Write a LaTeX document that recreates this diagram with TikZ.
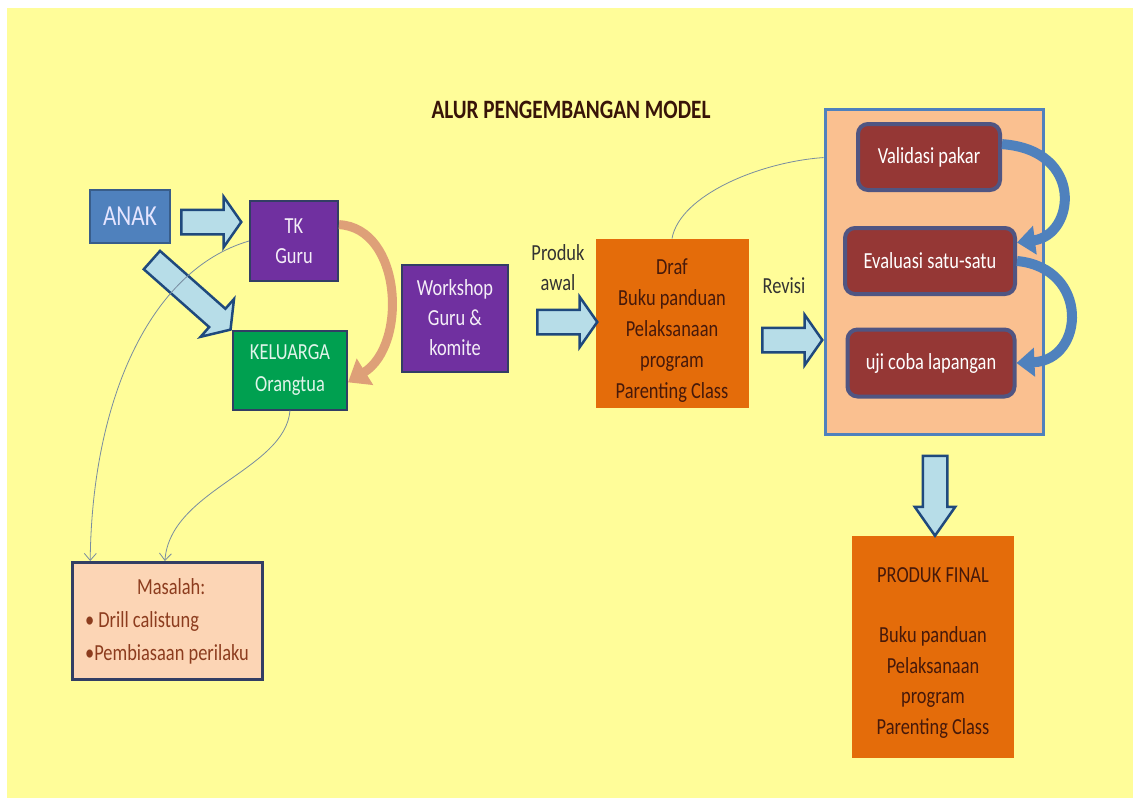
\documentclass[tikz,border=0pt]{standalone}
\usepackage{fontspec}
\setmainfont{Carlito}[FakeStretch=0.8]
\usetikzlibrary{shapes.arrows,arrows.meta}
\definecolor{bgyellow}{RGB}{255,253,153}
\definecolor{anakblue}{RGB}{79,129,189}
\definecolor{anakline}{RGB}{56,93,138}
\definecolor{tkpurple}{RGB}{112,48,160}
\definecolor{kelgreen}{RGB}{0,160,80}
\definecolor{darkline}{RGB}{50,62,100}
\definecolor{drafor}{RGB}{228,108,10}
\definecolor{drafink}{RGB}{70,25,10}
\definecolor{peach}{RGB}{250,192,144}
\definecolor{stepred}{RGB}{149,55,53}
\definecolor{stepline}{RGB}{80,85,130}
\definecolor{arrowfill}{RGB}{183,221,232}
\definecolor{arrowline}{RGB}{31,73,125}
\definecolor{masfill}{RGB}{252,213,181}
\definecolor{masink}{RGB}{140,60,30}
\definecolor{tanarrow}{RGB}{222,160,120}
\definecolor{thinline}{RGB}{120,140,160}
\begin{document}
\begin{tikzpicture}[x=1pt,y=-1pt]
            \tikzstyle{box}=[draw=darkline, line width=2pt, inner sep=2pt, align=center, font=\fontsize{23}{30}\selectfont]
            \tikzstyle{stepbox}=[box, fill=stepred, draw=stepline, line width=4pt, rounded corners=10pt, text=white]
            \tikzstyle{bigarrow}=[single arrow, draw=arrowline, fill=arrowfill, line width=2.5pt, inner xsep=0pt, inner ysep=11pt, single arrow head extend=13pt, single arrow tip angle=110]
            \tikzstyle{thin}=[draw=thinline, line width=0.8pt, -{Straight Barb[length=7pt,width=12pt]}]
            \tikzstyle{linenode}=[align=center, text=black!80, font=\fontsize{23}{30}\selectfont]
            \useasboundingbox (0,0) rectangle (1133,798);
            \fill[bgyellow] (7,8) rectangle (1133,798);
            \node[text=drafink!80!black, font=\fontsize{26.5}{30}\selectfont\bfseries] (title) at (571,110) {ALUR PENGEMBANGAN MODEL};
            \node[box, fill=anakblue, draw=anakline, minimum width=80pt, minimum height=53pt, text=white!90!blue, font=\fontsize{29}{30}\selectfont] (anak) at (130,216) {ANAK};
            \node[box, fill=tkpurple, minimum width=88pt, minimum height=80pt, text=white!92!tkpurple] (tk) at (294,241) {TK\\Guru};
            \node[box, fill=kelgreen, minimum width=114pt, minimum height=79pt, text=white!88!kelgreen, font=\fontsize{23}{32}\selectfont] (kel) at (290,370) {KELUARGA\\Orangtua};
            \node[box, fill=tkpurple, minimum width=106pt, minimum height=107pt, text=white!92!tkpurple] (ws) at (455,318) {Workshop\\Guru \&\\komite};
            \node[box, fill=drafor, draw=drafor, minimum width=151pt, minimum height=167pt, text=drafink, font=\fontsize{23}{31}\selectfont] (draf) at (672,323) {\rule{0pt}{30pt}Draf\\Buku panduan\\Pelaksanaan\\program\\Parenting Class};
            \node[box, fill=peach, draw=anakblue, line width=3pt, minimum width=218pt, minimum height=325pt] (big) at (934,272) {};
            \node[stepbox, minimum width=142pt, minimum height=66pt] (val) at (929,157) {Validasi pakar};
            \node[stepbox, minimum width=170pt, minimum height=66pt] (eva) at (930,261) {Evaluasi satu-satu};
            \node[stepbox, minimum width=167pt, minimum height=67pt] (uji) at (931,363) {uji coba lapangan};
            \node[box, fill=drafor, draw=drafor, minimum width=160pt, minimum height=220pt, text=drafink, font=\fontsize{23}{30.5}\selectfont] (final) at (933,647) {\rule{0pt}{26pt}PRODUK FINAL\\[30pt]Buku panduan\\Pelaksanaan\\program\\Parenting Class};
            \node[box, fill=masfill, draw=darkline, line width=3pt, minimum width=190pt, minimum height=117pt, text=masink, align=left, font=\fontsize{23}{33}\selectfont] (masalah) at (167,621) {\hspace*{52pt}Masalah:\\\textbullet\ Drill calistung\\\textbullet Pembiasaan perilaku};
            \node[linenode] (produk) at (558,268) {Produk\\awal};
            \node[linenode] (revisi) at (784,286) {Revisi};
            % block arrows
            \node[bigarrow, minimum height=60pt] (a1) at (207,222) {};
            \node[bigarrow, minimum height=105pt, rotate=-41.5] (a2) at (188,292) {};
            \node[bigarrow, minimum height=60pt] (a3) at (563,322) {};
            \node[bigarrow, minimum height=60pt] (a4) at (788,340) {};
            \node[bigarrow, minimum height=80pt, single arrow head extend=8pt, single arrow tip angle=70, rotate=-90] (a5) at (935,487) {};
            % curved arrows
            \draw[tanarrow, line width=9pt, -{Triangle[length=20pt,width=30pt]}] (tk.20) .. controls (402,228) and (408,345) .. (kel.-12);
            \draw[anakblue, line width=10pt, -{Triangle[length=18pt,width=28pt]}] (val.10) .. controls (1085,150) and (1075,235) .. (eva.12);
            \draw[anakblue, line width=10pt, -{Triangle[length=18pt,width=28pt]}] (eva.east) .. controls (1090,268) and (1085,360) .. (uji.east);
            % thin connectors
            \path[thin] (tk.west) .. controls (150,270) and (92,400) .. (masalah.142);
            \path[thin] (kel.south) .. controls (285,470) and (170,490) .. (masalah.92);
            \draw[thinline, line width=0.8pt] (draf.north) .. controls (680,195) and (760,162) .. (big.134);
        \end{tikzpicture}
\end{document}
